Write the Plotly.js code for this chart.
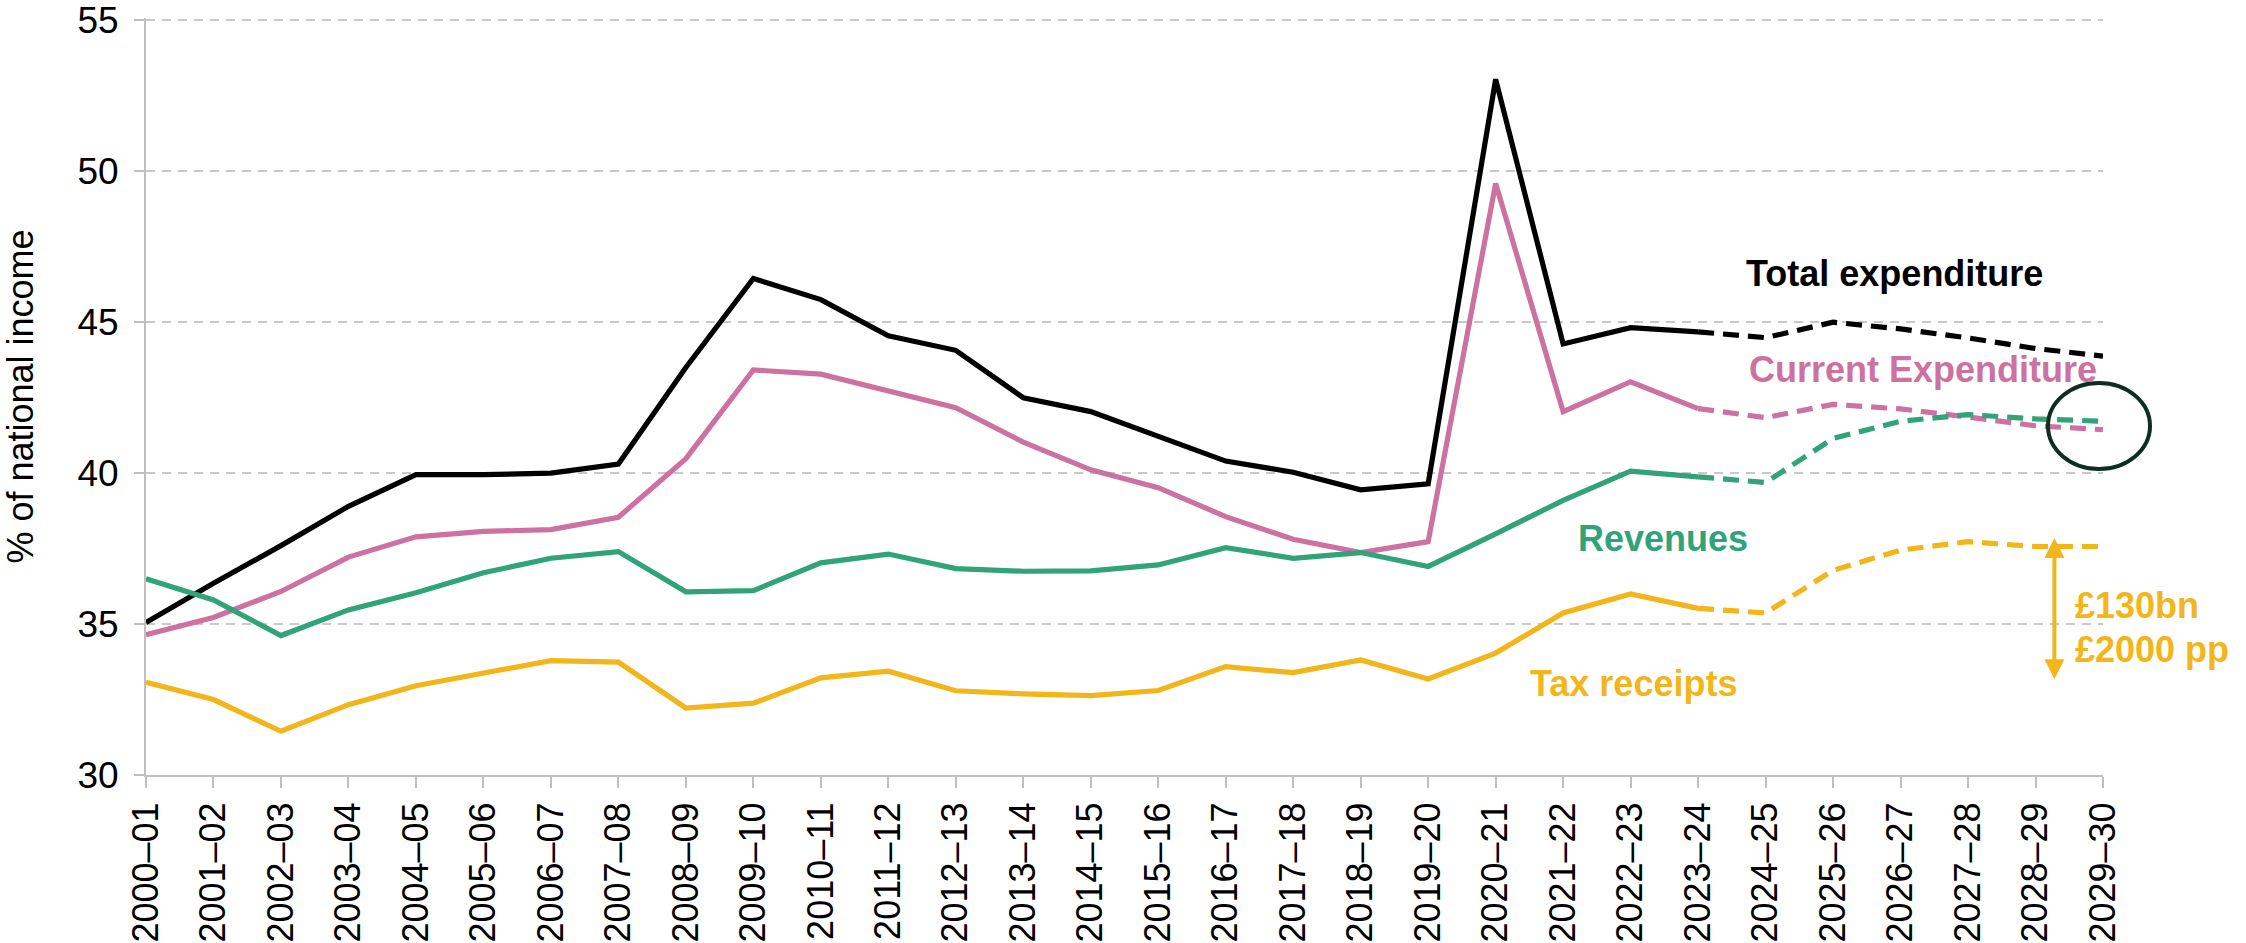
<!DOCTYPE html>
<html>
<head>
<meta charset="utf-8">
<script src="https://cdn.plot.ly/plotly-3.0.1.min.js"></script>
<style>
  html, body { margin: 0; padding: 0; background: #ffffff; }
  #chart { width: 2246px; height: 943px; }
</style>
</head>
<body>
<div id="chart"></div>
<script>
// Fiscal years (category labels)
const years = ["2000–01","2001–02","2002–03","2003–04","2004–05","2005–06","2006–07","2007–08","2008–09","2009–10",
               "2010–11","2011–12","2012–13","2013–14","2014–15","2015–16","2016–17","2017–18","2018–19","2019–20",
               "2020–21","2021–22","2022–23","2023–24","2024–25","2025–26","2026–27","2027–28","2028–29","2029–30"];

// % of national income (outturn to 2023–24, forecast afterwards)
const totalExpenditure   = [35.05,36.35,37.6,38.9,39.95,39.95,40.0,40.3,43.5,46.45,45.75,44.55,44.07,42.5,42.04,41.2,40.4,40.03,39.45,39.65,53.05,44.28,44.82,44.68,44.49,45.0,44.78,44.48,44.13,43.88];
const currentExpenditure = [34.65,35.22,36.08,37.22,37.89,38.07,38.13,38.54,40.48,43.42,43.28,42.72,42.17,41.03,40.11,39.52,38.56,37.81,37.37,37.73,49.6,42.04,43.03,42.14,41.84,42.28,42.13,41.86,41.57,41.44];
const revenues           = [36.5,35.8,34.62,35.47,36.04,36.7,37.18,37.4,36.07,36.11,37.03,37.32,36.84,36.75,36.76,36.96,37.53,37.18,37.37,36.91,37.99,39.1,40.07,39.88,39.69,41.15,41.72,41.94,41.8,41.72];
const taxReceipts        = [33.07,32.5,31.45,32.33,32.96,33.36,33.79,33.74,32.22,32.38,33.22,33.44,32.79,32.69,32.63,32.8,33.59,33.39,33.81,33.18,34.04,35.37,36.0,35.52,35.37,36.78,37.45,37.73,37.57,37.57];

const lastOutturn = "2023–24";

const seriesNames  = ["Total expenditure","Current Expenditure","Revenues","Tax receipts"];
const seriesData   = [totalExpenditure, currentExpenditure, revenues, taxReceipts];
const seriesColors = ["#000000","#CC71A0","#31A378","#F2B51A"];

const FONT = "Liberation Sans, Arial, sans-serif";
const split = years.indexOf(lastOutturn);

const traces = [];
seriesData.forEach((vals, i) => {
  const solid  = vals.map((v, k) => k <= split ? v : null);
  const dashed = vals.map((v, k) => k >= split ? v : null);
  traces.push({
    x: years, y: solid, type: "scatter", mode: "lines", name: seriesNames[i],
    line: { color: seriesColors[i], width: 5.2 }, hoverinfo: "skip", showlegend: false
  });
  traces.push({
    x: years, y: dashed, type: "scatter", mode: "lines", name: seriesNames[i] + " (forecast)",
    line: { color: seriesColors[i], width: 5.2, dash: "16px,9px" }, hoverinfo: "skip", showlegend: false
  });
});

// Text labels
const labelText   = ["Total expenditure","Current Expenditure","Revenues","Tax receipts","£130bn","£2000 pp"];
const labelColors = ["#000000","#CC71A0","#31A378","#F2B51A","#F2B51A","#F2B51A"];
const labelX      = [23.68, 23.73, 21.19, 20.48, 28.56, 28.56];
const labelY      = [46.62, 43.45, 37.83, 33.03, 35.63, 34.15];

const annotations = labelText.map((t, i) => ({
  x: labelX[i], y: labelY[i], xref: "x", yref: "y", text: "<b>" + t + "</b>",
  showarrow: false, xanchor: "left", yanchor: "middle",
  font: { family: FONT, size: 36, color: labelColors[i] }
}));

// double-headed gap arrow
annotations.push({
  x: 28.28, y: 37.85, ax: 28.28, ay: 33.12, xref: "x", yref: "y", axref: "x", ayref: "y",
  text: "", showarrow: true, arrowside: "end+start", arrowhead: 2, startarrowhead: 2,
  arrowsize: 1, startarrowsize: 1, arrowwidth: 4, arrowcolor: "#F2B51A",
  standoff: 0, startstandoff: 0
});

const layout = {
  width: 2246, height: 943,
  margin: { l: 146, r: 143, t: 18, b: 168, pad: 0 },
  paper_bgcolor: "#ffffff", plot_bgcolor: "#ffffff",
  showlegend: false,
  font: { family: FONT, size: 36, color: "#000000" },
  xaxis: {
    type: "category", range: [0, 29], showgrid: false, zeroline: false,
    showline: true, linecolor: "#BFBFBF", linewidth: 2,
    ticks: "outside", ticklen: 11, tickcolor: "#BFBFBF", tickwidth: 2,
    tickangle: -90, tickfont: { family: FONT, size: 36, color: "#000000" }
  },
  yaxis: {
    range: [30, 55.08], tickmode: "array", tickvals: [30, 35, 40, 45, 50, 55],
    showgrid: true, gridcolor: "#C8C8C8", gridwidth: 2, griddash: "9px,7px",
    zeroline: false, showline: true, linecolor: "#BFBFBF", linewidth: 2,
    ticks: "outside", ticklen: 10, tickcolor: "#BFBFBF", tickwidth: 2,
    ticklabelstandoff: 8,
    tickfont: { family: FONT, size: 37, color: "#000000" },
    title: { text: "% of national income", font: { family: FONT, size: 36, color: "#000000" }, standoff: 36 }
  },
  annotations: annotations,
  shapes: [{
    type: "circle", xref: "paper", yref: "paper",
    x0: (2048 - 146) / 1957, x1: (2150 - 146) / 1957,
    y0: (775 - 469) / 757, y1: (775 - 383) / 757,
    line: { color: "#0F2E22", width: 4 }, fillcolor: "rgba(0,0,0,0)"
  }]
};

Plotly.newPlot("chart", traces, layout, { staticPlot: true, displayModeBar: false });
</script>
</body>
</html>
